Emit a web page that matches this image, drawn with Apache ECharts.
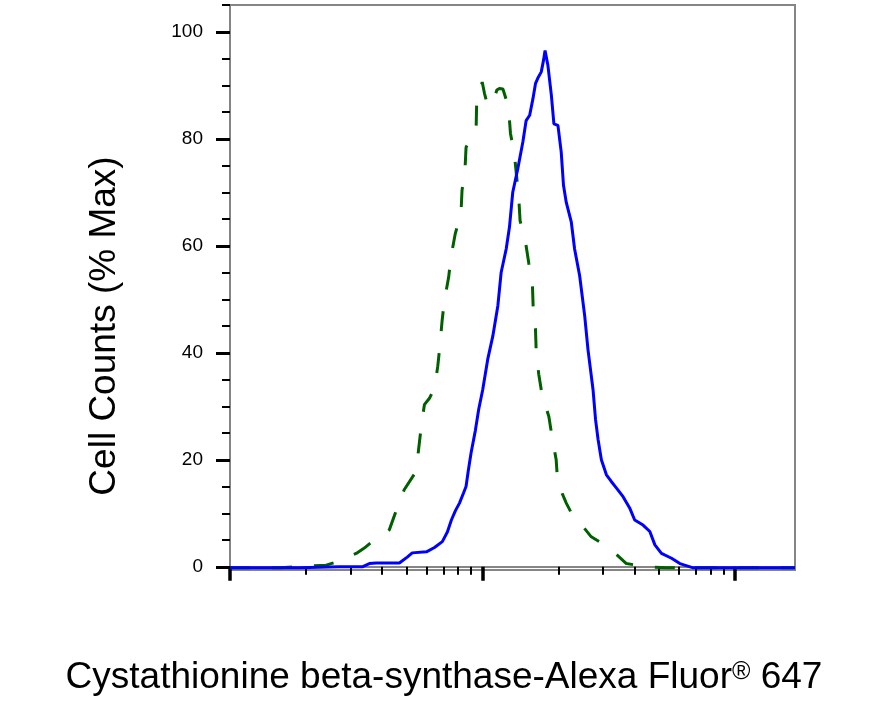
<!DOCTYPE html>
<html>
<head>
<meta charset="utf-8">
<script src="https://cdn.jsdelivr.net/npm/echarts@6.0.0/dist/echarts.min.js"></script>
<style>
html, body { margin: 0; padding: 0; background: #fff; }
#chart { width: 882px; height: 701px; }
</style>
</head>
<body>
<div id="chart"></div>
<script>
// flow histogram, x = log10 fluorescence, y = % of max

// stained sample (blue, solid)
var blueX = [1.000, 1.274, 1.433, 1.524, 1.552, 1.579, 1.671, 1.702, 1.722, 1.778,
    1.810, 1.841, 1.861, 1.877, 1.893, 1.909, 1.925, 1.935, 1.944, 1.955,
    1.972, 1.985, 2.001, 2.021, 2.041, 2.061, 2.074, 2.094, 2.107, 2.120,
    2.140, 2.160, 2.173, 2.187, 2.200, 2.210, 2.219, 2.233, 2.242, 2.248,
    2.259, 2.273, 2.283, 2.299, 2.312, 2.321, 2.332, 2.352, 2.365, 2.385,
    2.405, 2.418, 2.438, 2.448, 2.458, 2.471, 2.491, 2.511, 2.531, 2.557,
    2.583, 2.603, 2.636, 2.663, 2.683, 2.709, 2.749, 2.782, 2.835, 3.238];
var blueY = [-0.2, -0.2, 0, 0, 0.6, 0.7, 0.7, 1.8, 2.6, 2.8,
    3.6, 4.7, 6.5, 8.75, 10.5, 11.9, 13.8, 15, 18, 21.3,
    25.5, 29.4, 33.1, 38.8, 43.1, 48.8, 55, 59.4, 63.5, 70,
    74.4, 79.4, 83.4, 84.4, 87.5, 90.3, 91.3, 92.5, 94.7, 96.5,
    93.8, 88.1, 82.8, 82.5, 77.5, 71.3, 68.1, 64.4, 59.4, 54.4,
    46.9, 40.6, 33.1, 27.5, 23.8, 20, 17.2, 15.9, 14.7, 13.1,
    11, 8.75, 7.8, 6.6, 4.1, 2.5, 1.6, 0.6, -0.2, -0.2];

// control (green, dashed)
var greenX = [1.000, 1.202, 1.254, 1.381, 1.421, 1.500, 1.532, 1.563, 1.599, 1.631,
    1.659, 1.675, 1.690, 1.737, 1.757, 1.770, 1.790, 1.810, 1.823, 1.832,
    1.840, 1.849, 1.866, 1.876, 1.892, 1.915, 1.919, 1.931, 1.935, 1.975,
    1.977, 1.999, 2.008, 2.020, 2.040, 2.057, 2.067, 2.081, 2.103, 2.111,
    2.127, 2.144, 2.149, 2.171, 2.184, 2.198, 2.201, 2.210, 2.213, 2.223,
    2.237, 2.263, 2.277, 2.292, 2.298, 2.332, 2.353, 2.377, 2.431, 2.504,
    2.570, 2.650, 2.729, 3.238];
var greenY = [-0.2, -0.2, 0, 0.3, 0.9, 2.5, 3.5, 4.7, 5.8, 6.9,
    10.6, 12.5, 14.4, 17.8, 26, 30.3, 31.5, 33.4, 37.5, 41.6,
    45.9, 49.7, 54.1, 58.1, 62.2, 66.1, 70.3, 74.4, 78.4, 82.2,
    86.5, 90.6, 88.5, 86.3, 86.6, 89.1, 89.4, 89.3, 86, 81,
    76.9, 68.8, 64.7, 60.6, 56.6, 52.6, 48.3, 44.4, 40.1, 36,
    31.9, 28.1, 23.9, 20, 15.7, 11.9, 10, 8.75, 5.6, 3.5,
    0.6, 0, -0.2, -0.2];

// ticks
var yMajor = [0, 20, 40, 60, 80, 100];
var yMinor = [5, 10, 15, 25, 30, 35, 45, 50, 55, 65, 70, 75, 85, 90, 95, 105];
var xMajor = [1, 2, 3];
var xMinorMult = [2, 3, 4, 5, 6, 7, 8, 9];
var xMinorDecades = [1, 2];

var xMinor = [];
for (var d = 0; d < xMinorDecades.length; d++) {
    for (var m = 0; m < xMinorMult.length; m++) {
        xMinor.push(xMinorDecades[d] + Math.log10(xMinorMult[m]));
    }
}

function pairs(xs, ys) {
    var out = [];
    for (var i = 0; i < xs.length; i++) {
        out.push([xs[i], ys[i]]);
    }
    return out;
}

var xMin = 1, xMax = 3.238;
var yMin = -0.6, yMax = 105;
var font = '"Liberation Sans", Arial, sans-serif';
var gray = '#858585';

var myChart = echarts.init(document.getElementById('chart'));

var option = {
    animation: false,
    backgroundColor: '#fff',
    grid: {
        left: 230, right: 87, top: 5, bottom: 131,
        show: true, borderColor: gray, borderWidth: 2
    },
    xAxis: [{
        type: 'value', min: xMin, max: xMax,
        axisLine: { show: true, lineStyle: { color: gray, width: 2 } },
        axisTick: { show: true, customValues: xMajor, length: 14, lineStyle: { color: '#000', width: 3.5 } },
        axisLabel: { show: false },
        splitLine: { show: false }
    }, {
        type: 'value', min: xMin, max: xMax, position: 'bottom',
        axisLine: { show: false },
        axisTick: { show: true, customValues: xMinor, length: 8, lineStyle: { color: '#000', width: 2 } },
        axisLabel: { show: false },
        splitLine: { show: false }
    }],
    yAxis: [{
        type: 'value', min: yMin, max: yMax,
        axisLine: { show: true, lineStyle: { color: gray, width: 2 } },
        axisTick: { show: true, customValues: yMajor, length: 14, lineStyle: { color: '#000', width: 3 } },
        axisLabel: {
            show: true, customValues: yMajor, margin: 27,
            color: '#000', fontSize: 19, fontFamily: font
        },
        splitLine: { show: false }
    }, {
        type: 'value', min: yMin, max: yMax, position: 'left',
        axisLine: { show: false },
        axisTick: { show: true, customValues: yMinor, length: 8, lineStyle: { color: '#000', width: 2 } },
        axisLabel: { show: false },
        splitLine: { show: false }
    }],
    graphic: [{
        type: 'text',
        x: 105, y: 326,
        rotation: Math.PI / 2,
        style: {
            text: 'Cell Counts (% Max)',
            fontSize: 37, fontFamily: font, fill: '#000',
            align: 'center', verticalAlign: 'middle'
        }
    }, {
        type: 'text',
        x: 444, y: 678,
        style: {
            text: 'Cystathionine beta-synthase-Alexa Fluor{r|®} 647',
            fontSize: 37, fontFamily: font, fill: '#000',
            align: 'center', verticalAlign: 'middle',
            rich: {
                r: { fontSize: 25, fontFamily: font, verticalAlign: 'top', lineHeight: 25 }
            }
        }
    }],
    series: [{
        name: 'control',
        type: 'line',
        data: pairs(greenX, greenY),
        showSymbol: false,
        clip: false,
        lineStyle: { color: '#006000', width: 3, type: [20, 22] },
        z: 2
    }, {
        name: 'CBS',
        type: 'line',
        data: pairs(blueX, blueY),
        showSymbol: false,
        clip: false,
        lineStyle: { color: '#0000ff', width: 3 },
        z: 3
    }]
};

myChart.setOption(option);
</script>
</body>
</html>
